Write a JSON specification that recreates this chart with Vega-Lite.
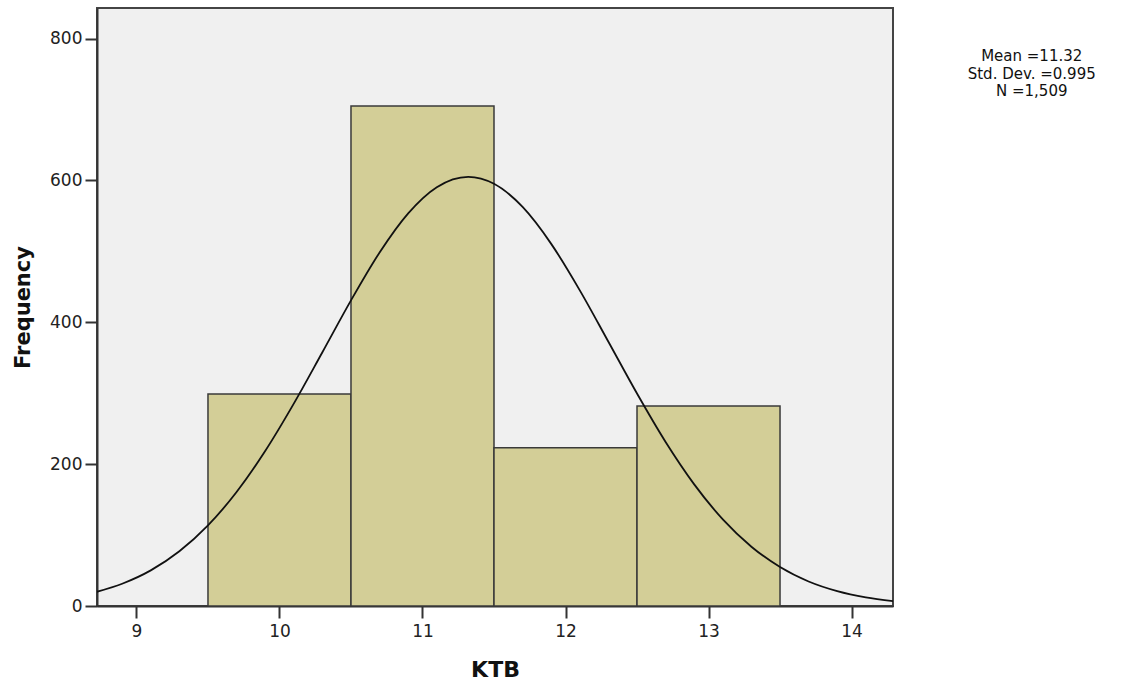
{
  "$schema": "https://vega.github.io/schema/vega-lite/v6.json",
  "autosize": {"type": "none"},
  "width": 796,
  "height": 598,
  "padding": {"left": 97, "top": 8, "right": 235, "bottom": 82},
  "background": "white",
  "config": {
    "view": {"fill": "#F0F0F0", "stroke": "#444444", "strokeWidth": 2},
    "font": "DejaVu Sans",
    "axis": {
      "domainColor": "#333333",
      "domainWidth": 2,
      "tickColor": "#333333",
      "tickWidth": 2,
      "tickSize": 12,
      "labelFont": "DejaVu Sans",
      "labelFontSize": 17,
      "labelColor": "#222222",
      "titleFont": "DejaVu Sans",
      "titleFontWeight": "bold",
      "titleColor": "#111111",
      "grid": false
    }
  },
  "datasets": {
    "bins": [
      {"bin_start": 9.5, "bin_end": 10.5, "count": 299},
      {"bin_start": 10.5, "bin_end": 11.5, "count": 705},
      {"bin_start": 11.5, "bin_end": 12.5, "count": 223},
      {"bin_start": 12.5, "bin_end": 13.5, "count": 282}
    ],
    "curve": [
      {"x": 8.72, "y": 19.9}, {"x": 8.9, "y": 31.4}, {"x": 9.1, "y": 50.2},
      {"x": 9.3, "y": 77.1}, {"x": 9.5, "y": 113.6}, {"x": 9.7, "y": 160.7},
      {"x": 9.9, "y": 218.5}, {"x": 10.1, "y": 285.3}, {"x": 10.3, "y": 357.7},
      {"x": 10.5, "y": 430.8}, {"x": 10.7, "y": 498.3}, {"x": 10.9, "y": 553.5},
      {"x": 11.1, "y": 590.4}, {"x": 11.32, "y": 605.0}, {"x": 11.5, "y": 595.2},
      {"x": 11.7, "y": 562.5}, {"x": 11.9, "y": 510.5}, {"x": 12.1, "y": 445.0},
      {"x": 12.3, "y": 372.5}, {"x": 12.5, "y": 299.5}, {"x": 12.7, "y": 231.2},
      {"x": 12.9, "y": 171.5}, {"x": 13.1, "y": 122.1}, {"x": 13.3, "y": 83.6},
      {"x": 13.5, "y": 54.9}, {"x": 13.7, "y": 34.6}, {"x": 13.9, "y": 21.0},
      {"x": 14.1, "y": 12.2}, {"x": 14.29, "y": 7.0}
    ]
  },
  "layer": [
    {
      "data": {"name": "bins"},
      "mark": {"type": "rect", "fill": "#D3CE97", "stroke": "#3a3a3a", "strokeWidth": 1.5},
      "encoding": {
        "x": {
          "field": "bin_start", "type": "quantitative",
          "scale": {"domain": [8.724, 14.29], "nice": false, "zero": false},
          "axis": {"values": [9, 10, 11, 12, 13, 14], "format": "d", "title": "KTB", "titleFontSize": 22, "titlePadding": 20, "labelPadding": 5}
        },
        "x2": {"field": "bin_end"},
        "y": {
          "field": "count", "type": "quantitative",
          "scale": {"domain": [0, 843], "nice": false},
          "axis": {"values": [0, 200, 400, 600, 800], "title": "Frequency", "titleFontSize": 21, "titlePadding": 16, "labelPadding": 3}
        },
        "y2": {"datum": 0}
      }
    },
    {
      "data": {"name": "curve"},
      "mark": {"type": "line", "color": "#111111", "strokeWidth": 1.8, "interpolate": "monotone", "clip": true},
      "encoding": {
        "x": {"field": "x", "type": "quantitative"},
        "y": {"field": "y", "type": "quantitative"}
      }
    },
    {
      "data": {"values": [{"text": "stats"}]},
      "mark": {"type": "text", "align": "center", "baseline": "alphabetic", "fontSize": 15, "font": "DejaVu Sans", "color": "#111111", "lineHeight": 17.5, "clip": false},
      "encoding": {
        "x": {"datum": 15.26},
        "y": {"datum": 768},
        "text": {"value": ["Mean =11.32", "Std. Dev. =0.995", "N =1,509"]}
      }
    }
  ]
}
